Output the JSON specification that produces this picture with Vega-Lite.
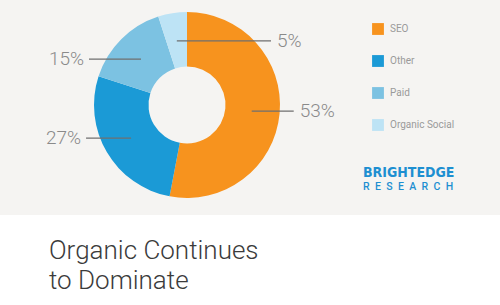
{
  "$schema": "https://vega.github.io/schema/vega-lite/v6.json",
  "width": 500,
  "height": 215,
  "autosize": {"type": "none"},
  "padding": {"left": 0, "top": 0, "right": 0, "bottom": 90},
  "background": "#ffffff",
  "config": {
    "view": {"stroke": null, "fill": "#f5f4f2"},
    "font": "Roboto"
  },
  "title": {
    "text": ["Organic Continues", "to Dominate"],
    "orient": "bottom",
    "anchor": "start",
    "frame": "group",
    "offset": 44,
    "dx": 49,
    "baseline": "alphabetic",
    "font": "Roboto",
    "fontSize": 26,
    "fontWeight": 300,
    "color": "#3b3b3b",
    "lineHeight": 30
  },
  "datasets": {
    "share": [
      {"channel": "SEO", "value": 53},
      {"channel": "Other", "value": 27},
      {"channel": "Paid", "value": 15},
      {"channel": "Organic Social", "value": 5}
    ],
    "logo": [
      {"line": "BRIGHTEDGE"}
    ],
    "logo2": [
      {"line": "R\u2009\u2009\u200aE\u2009\u2009\u200aS\u2009\u2009\u200aE\u2009\u2009\u200aA\u2009\u2009\u200aR\u2009\u2009\u200aC\u2009\u2009\u200aH"}
    ]
  },
  "layer": [
    {
      "data": {"name": "share"},
      "mark": {"type": "arc", "outerRadius": 93, "innerRadius": 38.5},
      "encoding": {
        "theta": {"field": "value", "type": "quantitative", "stack": true},
        "order": {"field": "value", "type": "quantitative", "sort": "descending"},
        "color": {
          "field": "channel",
          "type": "nominal",
          "sort": ["SEO", "Other", "Paid", "Organic Social"],
          "scale": {
            "domain": ["SEO", "Other", "Paid", "Organic Social"],
            "range": ["#f7931e", "#1b9ad6", "#7cc2e2", "#bde3f5"]
          },
          "legend": {
            "orient": "none",
            "legendX": 372,
            "legendY": 23,
            "title": null,
            "symbolType": "square",
            "symbolSize": 140,
            "symbolStrokeWidth": 0,
            "symbolOpacity": 1,
            "labelFont": "Roboto",
            "labelFontSize": 10,
            "labelColor": "#9a9a9a",
            "labelOffset": 6,
            "rowPadding": 20
          }
        },
        "x": {"datum": 0, "type": "quantitative", "scale": {"domain": [-187, 313], "nice": false, "zero": false}, "axis": null},
        "y": {"datum": 0, "type": "quantitative", "scale": {"domain": [-110, 105], "nice": false, "zero": false}, "axis": null}
      }
    },
    {
      "data": {"name": "share"},
      "transform": [
        {"joinaggregate": [{"op": "sum", "field": "value", "as": "total"}]},
        {"window": [{"op": "sum", "field": "value", "as": "cum"}], "sort": [{"field": "value", "order": "descending"}]},
        {"calculate": "2*PI*(datum.cum - datum.value/2)/datum.total", "as": "mid"},
        {"calculate": "65*sin(datum.mid)", "as": "lx"},
        {"calculate": "65*cos(datum.mid)", "as": "ly"},
        {"calculate": "sin(datum.mid) > -0.3 ? 1 : -1", "as": "side"},
        {"calculate": "datum.side > 0 ? max(datum.lx + 42, 84) : min(datum.lx - 45, -98)", "as": "ox"}
      ],
      "mark": {"type": "rule", "color": "#6f6f6f", "strokeWidth": 1.2},
      "encoding": {
        "x": {"field": "lx", "type": "quantitative", "scale": {"domain": [-187, 313], "nice": false, "zero": false}, "axis": null},
        "x2": {"field": "ox"},
        "y": {"field": "ly", "type": "quantitative", "scale": {"domain": [-110, 105], "nice": false, "zero": false}, "axis": null}
      }
    },
    {
      "data": {"name": "share"},
      "transform": [
        {"joinaggregate": [{"op": "sum", "field": "value", "as": "total"}]},
        {"window": [{"op": "sum", "field": "value", "as": "cum"}], "sort": [{"field": "value", "order": "descending"}]},
        {"calculate": "2*PI*(datum.cum - datum.value/2)/datum.total", "as": "mid"},
        {"calculate": "65*sin(datum.mid)", "as": "lx"},
        {"calculate": "65*cos(datum.mid)", "as": "ly"},
        {"calculate": "sin(datum.mid) > -0.3 ? 1 : -1", "as": "side"},
        {"calculate": "datum.side > 0 ? max(datum.lx + 42, 84) : min(datum.lx - 45, -98)", "as": "ox"},
        {"filter": "datum.side > 0"},
        {"calculate": "datum.value + '%'", "as": "label"}
      ],
      "mark": {"type": "text", "align": "left", "baseline": "middle", "dx": 6, "font": "Roboto", "fontSize": 19, "fontWeight": 300, "color": "#8a8a8a"},
      "encoding": {
        "x": {"field": "ox", "type": "quantitative", "scale": {"domain": [-187, 313], "nice": false, "zero": false}, "axis": null},
        "y": {"field": "ly", "type": "quantitative", "scale": {"domain": [-110, 105], "nice": false, "zero": false}, "axis": null},
        "text": {"field": "label"}
      }
    },
    {
      "data": {"name": "share"},
      "transform": [
        {"joinaggregate": [{"op": "sum", "field": "value", "as": "total"}]},
        {"window": [{"op": "sum", "field": "value", "as": "cum"}], "sort": [{"field": "value", "order": "descending"}]},
        {"calculate": "2*PI*(datum.cum - datum.value/2)/datum.total", "as": "mid"},
        {"calculate": "65*sin(datum.mid)", "as": "lx"},
        {"calculate": "65*cos(datum.mid)", "as": "ly"},
        {"calculate": "sin(datum.mid) > -0.3 ? 1 : -1", "as": "side"},
        {"calculate": "datum.side > 0 ? max(datum.lx + 42, 84) : min(datum.lx - 45, -98)", "as": "ox"},
        {"filter": "datum.side < 0"},
        {"calculate": "datum.value + '%'", "as": "label"}
      ],
      "mark": {"type": "text", "align": "right", "baseline": "middle", "dx": -5, "font": "Roboto", "fontSize": 19, "fontWeight": 300, "color": "#8a8a8a"},
      "encoding": {
        "x": {"field": "ox", "type": "quantitative", "scale": {"domain": [-187, 313], "nice": false, "zero": false}, "axis": null},
        "y": {"field": "ly", "type": "quantitative", "scale": {"domain": [-110, 105], "nice": false, "zero": false}, "axis": null},
        "text": {"field": "label"}
      }
    },
    {
      "data": {"name": "logo"},
      "mark": {"type": "text", "align": "left", "baseline": "alphabetic", "font": "DejaVu Sans Condensed, Roboto, sans-serif", "fontSize": 14, "fontWeight": "bold", "color": "#1d8fd1"},
      "encoding": {
        "x": {"datum": 176, "type": "quantitative", "scale": {"domain": [-187, 313], "nice": false, "zero": false}, "axis": null},
        "y": {"datum": -72, "type": "quantitative", "scale": {"domain": [-110, 105], "nice": false, "zero": false}, "axis": null},
        "text": {"field": "line"}
      }
    },
    {
      "data": {"name": "logo2"},
      "mark": {"type": "text", "align": "left", "baseline": "alphabetic", "font": "Roboto", "fontSize": 10.5, "fontWeight": 500, "color": "#1d8fd1"},
      "encoding": {
        "x": {"datum": 176, "type": "quantitative", "scale": {"domain": [-187, 313], "nice": false, "zero": false}, "axis": null},
        "y": {"datum": -85, "type": "quantitative", "scale": {"domain": [-110, 105], "nice": false, "zero": false}, "axis": null},
        "text": {"field": "line"}
      }
    }
  ]
}
